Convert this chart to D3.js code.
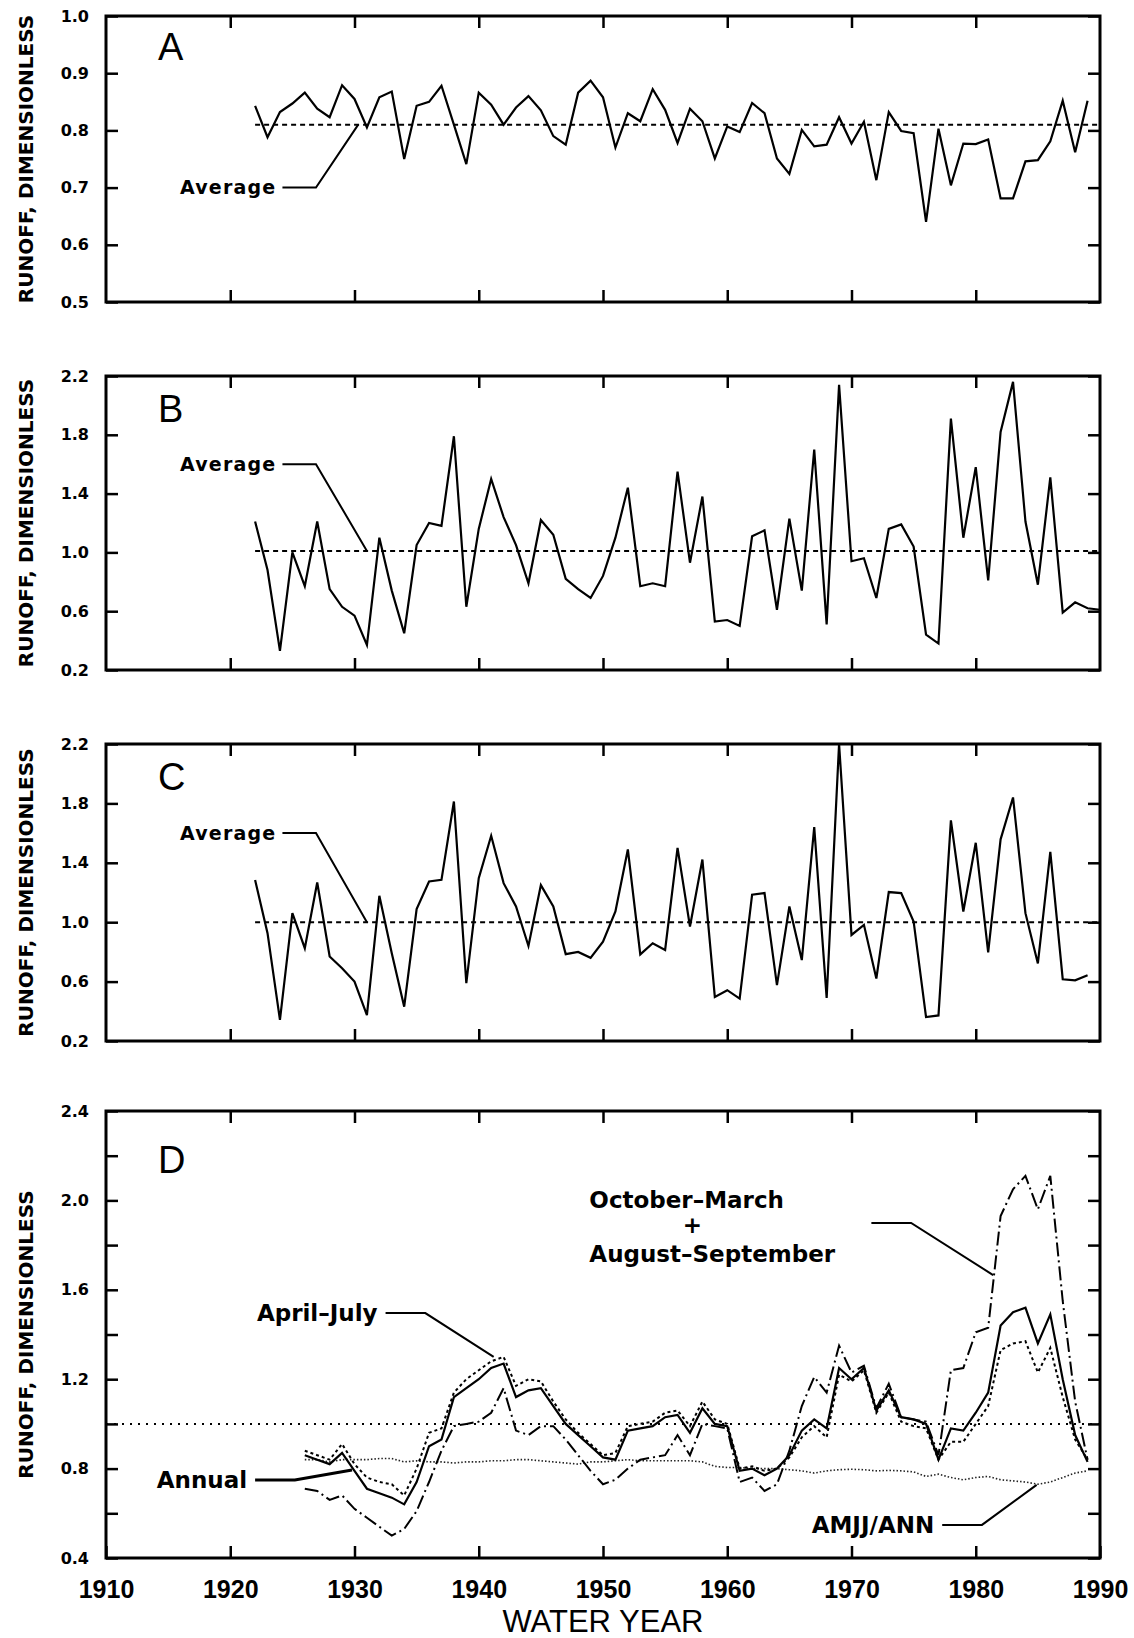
<!DOCTYPE html>
<html>
<head>
<meta charset="utf-8">
<script src="https://cdn.jsdelivr.net/npm/d3@7"></script>
<style>
  body { margin: 0; background: #fff; }
  text { fill: #000; }
</style>
</head>
<body>
<script>
// ---- data ----
const yearsA = d3.range(1922, 1990);
const yearsB = d3.range(1922, 1991);
const yearsC = d3.range(1922, 1990);
const yearsD = d3.range(1926, 1990);

const runoffA = [
  0.843, 0.788, 0.832, 0.847, 0.866, 0.838, 0.823, 0.879, 0.855, 0.805,
  0.858, 0.868, 0.750, 0.843, 0.850, 0.878, 0.810, 0.741, 0.866, 0.845,
  0.810, 0.840, 0.860, 0.835, 0.790, 0.775, 0.866, 0.887, 0.858, 0.770,
  0.830, 0.816, 0.872, 0.836, 0.778, 0.838, 0.816, 0.751, 0.807, 0.797,
  0.848, 0.830, 0.751, 0.724, 0.801, 0.772, 0.775, 0.823, 0.777, 0.815,
  0.713, 0.832, 0.799, 0.795, 0.640, 0.803, 0.704, 0.777, 0.776, 0.784,
  0.681, 0.681, 0.746, 0.748, 0.781, 0.852, 0.762, 0.852
];
const runoffB = [
  1.21, 0.88, 0.33, 1.00, 0.77, 1.21, 0.75, 0.63, 0.57, 0.37,
  1.10, 0.74, 0.45, 1.05, 1.20, 1.18, 1.79, 0.63, 1.16, 1.50,
  1.24, 1.05, 0.79, 1.22, 1.12, 0.82, 0.75, 0.69, 0.84, 1.10,
  1.44, 0.77, 0.79, 0.77, 1.55, 0.93, 1.38, 0.53, 0.54, 0.50,
  1.11, 1.15, 0.61, 1.23, 0.74, 1.70, 0.51, 2.14, 0.94, 0.96,
  0.69, 1.16, 1.19, 1.04, 0.44, 0.38, 1.91, 1.10, 1.58, 0.81,
  1.82, 2.16, 1.21, 0.78, 1.51, 0.59, 0.66, 0.62, 0.61
];
const runoffC = [
  1.285, 0.926, 0.342, 1.061, 0.825, 1.267, 0.769, 0.690, 0.600, 0.375,
  1.178, 0.791, 0.431, 1.088, 1.274, 1.285, 1.813, 0.589, 1.297, 1.582,
  1.263, 1.106, 0.840, 1.250, 1.106, 0.785, 0.800, 0.760, 0.869, 1.072,
  1.490, 0.783, 0.858, 0.813, 1.501, 0.971, 1.422, 0.497, 0.542, 0.485,
  1.185, 1.196, 0.576, 1.106, 0.745, 1.641, 0.490, 2.200, 0.914, 0.982,
  0.621, 1.203, 1.196, 1.005, 0.361, 0.372, 1.686, 1.072, 1.535, 0.797,
  1.558, 1.840, 1.061, 0.722, 1.474, 0.616, 0.609, 0.643
];
const averageA = 0.81, averageB = 1.01, averageC = 1.0, referenceD = 1.0;

const aprJul = [
  0.86, 0.84, 0.82, 0.87, 0.79, 0.71, 0.69, 0.67, 0.64, 0.74,
  0.90, 0.93, 1.12, 1.16, 1.20, 1.25, 1.27, 1.12, 1.15, 1.16,
  1.08, 1.00, 0.95, 0.90, 0.85, 0.84, 0.97, 0.98, 0.99, 1.03,
  1.04, 0.96, 1.07, 1.00, 0.99, 0.79, 0.80, 0.77, 0.80, 0.86,
  0.97, 1.02, 0.98, 1.25, 1.20, 1.25, 1.06, 1.15, 1.03, 1.02,
  1.00, 0.84, 0.98, 0.97, 1.05, 1.14, 1.44, 1.50, 1.52, 1.36,
  1.49, 1.20, 0.95, 0.83
];
const annual = [
  0.88, 0.86, 0.84, 0.91, 0.82, 0.76, 0.74, 0.73, 0.68, 0.80,
  0.96, 0.98, 1.14, 1.20, 1.24, 1.28, 1.30, 1.17, 1.20, 1.19,
  1.10, 1.02, 0.96, 0.91, 0.86, 0.87, 0.99, 1.00, 1.01, 1.05,
  1.06, 0.99, 1.10, 1.02, 1.00, 0.80, 0.81, 0.79, 0.80, 0.85,
  0.94, 0.99, 0.94, 1.22, 1.19, 1.24, 1.05, 1.14, 1.01, 0.99,
  0.98, 0.84, 0.92, 0.92, 1.00, 1.08, 1.33, 1.36, 1.37, 1.23,
  1.34, 1.12, 0.93, 0.84
];
const octMarAugSep = [
  0.71, 0.70, 0.66, 0.68, 0.62, 0.58, 0.54, 0.50, 0.53, 0.61,
  0.74, 0.88, 0.99, 1.00, 1.01, 1.05, 1.16, 0.97, 0.95, 0.99,
  0.99, 0.93, 0.86, 0.79, 0.73, 0.75, 0.80, 0.84, 0.85, 0.86,
  0.95, 0.86, 1.00, 0.99, 0.98, 0.74, 0.76, 0.70, 0.73, 0.88,
  1.08, 1.21, 1.14, 1.35, 1.23, 1.26, 1.07, 1.18, 1.03, 1.02,
  1.01, 0.86, 1.24, 1.25, 1.41, 1.43, 1.93, 2.05, 2.11, 1.96,
  2.11, 1.55, 1.10, 0.84
];
const amjjAnn = [
  0.840, 0.840, 0.830, 0.840, 0.840, 0.840, 0.845, 0.845, 0.830, 0.835,
  0.830, 0.830, 0.825, 0.830, 0.830, 0.835, 0.835, 0.840, 0.840, 0.835,
  0.830, 0.825, 0.820, 0.830, 0.830, 0.835, 0.840, 0.835, 0.835, 0.835,
  0.835, 0.835, 0.830, 0.810, 0.805, 0.805, 0.800, 0.800, 0.800, 0.795,
  0.790, 0.780, 0.790, 0.795, 0.797, 0.795, 0.790, 0.792, 0.790, 0.785,
  0.765, 0.775, 0.760, 0.750, 0.760, 0.765, 0.750, 0.745, 0.740, 0.730,
  0.740, 0.760, 0.780, 0.790
];

const xTickLabels = [1910, 1920, 1930, 1940, 1950, 1960, 1970, 1980, 1990];
const xTicksInner = [1920, 1930, 1940, 1950, 1960, 1970, 1980];
const yTicksA = [0.5, 0.6, 0.7, 0.8, 0.9, 1.0];
const yTicksBC = [0.2, 0.6, 1.0, 1.4, 1.8, 2.2];
const yTicksD = [0.4, 0.6, 0.8, 1.0, 1.2, 1.4, 1.6, 1.8, 2.0, 2.2, 2.4];
const yLabelsD = [0.4, 0.8, 1.2, 1.6, 2.0, 2.4];

// ---- layout ----
const width = 1134, height = 1638;
const left = 106, right = 1100;
const labelFont = "'DejaVu Sans', sans-serif";

const x = d3.scaleLinear().domain([1910, 1990]).range([left, right]);

const svg = d3.select("body").append("svg")
    .attr("width", width).attr("height", height)
    .style("font-family", labelFont);

const zip = (yrs, vals) => yrs.map((yr, i) => ({year: yr, v: vals[i]}));

let panels = [
  {name: "A", top: 16, bottom: 302, domain: [0.5, 1.0], ticks: yTicksA, labels: yTicksA, letterDy: 44},
  {name: "B", top: 376, bottom: 670, domain: [0.2, 2.2], ticks: yTicksBC, labels: yTicksBC, letterDy: 46},
  {name: "C", top: 744, bottom: 1041, domain: [0.2, 2.2], ticks: yTicksBC, labels: yTicksBC, letterDy: 46},
  {name: "D", top: 1111, bottom: 1558, domain: [0.4, 2.4], ticks: yTicksD, labels: yLabelsD, letterDy: 62}
];

panels.forEach(p => {
  p.y = d3.scaleLinear().domain(p.domain).range([p.bottom, p.top]);
  const g = svg.append("g");
  p.g = g;

  // left axis with labels, ticks pointing inward
  g.append("g")
      .attr("transform", `translate(${left},0)`)
      .call(d3.axisLeft(p.y).tickValues(p.ticks).tickSize(-12).tickPadding(17)
          .tickFormat(d => p.labels.some(l => Math.abs(l - d) < 1e-9) ? d3.format(".1f")(d) : ""))
      .call(a => a.select(".domain").remove())
      .call(a => a.selectAll("line").attr("stroke-width", 2.5))
      .call(a => a.selectAll("text").attr("font-size", 16).attr("font-weight", "bold")
          .attr("font-family", labelFont).attr("fill", "#000"));

  g.append("g")
      .attr("transform", `translate(${right},0)`)
      .call(d3.axisRight(p.y).tickValues(p.ticks).tickSize(-12).tickFormat(""))
      .call(a => a.select(".domain").remove())
      .call(a => a.selectAll("line").attr("stroke-width", 2.5));

  g.append("g")
      .attr("transform", `translate(0,${p.top})`)
      .call(d3.axisTop(x).tickValues(xTicksInner).tickSize(-12).tickFormat(""))
      .call(a => a.select(".domain").remove())
      .call(a => a.selectAll("line").attr("stroke-width", 2.5));

  g.append("g")
      .attr("transform", `translate(0,${p.bottom})`)
      .call(d3.axisBottom(x).tickValues(p.name === "D" ? xTickLabels : xTicksInner)
          .tickSize(-12).tickPadding(p.name === "D" ? 22 : 3)
          .tickFormat(p.name === "D" ? d3.format("d") : ""))
      .call(a => a.select(".domain").remove())
      .call(a => a.selectAll("line").attr("stroke-width", 2.5))
      .call(a => a.selectAll("text").attr("font-size", 25).attr("font-weight", "bold")
          .attr("font-family", "'Liberation Sans', Arial, sans-serif").attr("fill", "#000"));

  // frame
  g.append("rect")
      .attr("x", left).attr("y", p.top)
      .attr("width", right - left).attr("height", p.bottom - p.top)
      .attr("fill", "none").attr("stroke", "#000").attr("stroke-width", 3);

  // panel letter
  g.append("text")
      .attr("x", left + 52).attr("y", p.top + p.letterDy)
      .attr("font-family", "'Liberation Sans', Arial, sans-serif")
      .attr("font-size", 38)
      .text(p.name);

  // y title
  g.append("text")
      .attr("transform", `translate(33,${(p.top + p.bottom) / 2}) rotate(-90)`)
      .attr("text-anchor", "middle")
      .attr("font-size", 20).attr("font-weight", "bold")
      .text("RUNOFF, DIMENSIONLESS");
});

// ---- panels A-C: series + average ----
const abc = [
  {p: panels[0], data: zip(yearsA, runoffA), avg: averageA, from: 1922},
  {p: panels[1], data: zip(yearsB, runoffB), avg: averageB, from: 1922},
  {p: panels[2], data: zip(yearsC, runoffC), avg: averageC, from: 1922}
];

// leader for "Average": label level, elbow, target year
const avgLabel = [
  {labelV: 0.70, elbowFrom: 1924.2, elbowTo: 1926.9, target: 1930.3},
  {labelV: 1.60, elbowFrom: 1924.2, elbowTo: 1926.9, target: 1931.0},
  {labelV: 1.60, elbowFrom: 1924.2, elbowTo: 1926.9, target: 1931.0}
];

abc.forEach((s, i) => {
  const y = s.p.y, g = s.p.g;
  const line = d3.line().x(d => x(d.year)).y(d => y(d.v));
  g.append("path")
      .datum([{year: s.from, v: s.avg}, {year: 1990, v: s.avg}])
      .attr("d", line).attr("fill", "none").attr("stroke", "#000")
      .attr("stroke-width", 2).attr("stroke-dasharray", "5,4");
  g.append("path")
      .datum(s.data)
      .attr("d", line).attr("fill", "none").attr("stroke", "#000")
      .attr("stroke-width", 2.2).attr("stroke-linejoin", "miter");

  const a = avgLabel[i];
  g.append("path")
      .datum([{year: a.elbowFrom, v: a.labelV}, {year: a.elbowTo, v: a.labelV}, {year: a.target, v: s.avg}])
      .attr("d", line).attr("fill", "none").attr("stroke", "#000").attr("stroke-width", 2);
  g.append("text")
      .attr("x", x(a.elbowFrom) - 6).attr("y", y(a.labelV)).attr("dy", "0.36em")
      .attr("text-anchor", "end")
      .attr("font-size", 19).attr("font-weight", "bold").attr("letter-spacing", 1.2)
      .text("Average");
});

// ---- panel D ----
const pD = panels[3], yD = pD.y, gD = pD.g;
const lineD = d3.line().x(d => x(d.year)).y(d => yD(d.v));

gD.append("path")
    .datum([{year: 1910, v: referenceD}, {year: 1990, v: referenceD}])
    .attr("d", lineD).attr("fill", "none").attr("stroke", "#000")
    .attr("stroke-width", 2).attr("stroke-dasharray", "2,6");

const seriesD = [
  {vals: amjjAnn, dash: "1.5,2", w: 1.6, color: "#222"},
  {vals: octMarAugSep, dash: "14,4,2,4", w: 2, color: "#000"},
  {vals: annual, dash: "3,3", w: 2, color: "#000"},
  {vals: aprJul, dash: null, w: 2.2, color: "#000"}
];
seriesD.forEach(s => {
  gD.append("path")
      .datum(zip(yearsD, s.vals))
      .attr("d", lineD).attr("fill", "none").attr("stroke", s.color)
      .attr("stroke-width", s.w).attr("stroke-dasharray", s.dash);
});

const leadersD = [
  {text: "April\u2013July", pts: [[1932.5, 1.496], [1935.7, 1.496], [1941.2, 1.30]]},
  {text: "Annual", pts: [[1922.0, 0.749], [1925.2, 0.749], [1929.8, 0.794]], w: 3},
  {text: "AMJJ/ANN", pts: [[1977.3, 0.548], [1980.5, 0.548], [1984.9, 0.727]]},
  {text: null, pts: [[1971.6, 1.899], [1974.8, 1.899], [1981.4, 1.666]]}
];
leadersD.forEach(l => {
  gD.append("path")
      .datum(l.pts.map(p => ({year: p[0], v: p[1]})))
      .attr("d", lineD).attr("fill", "none").attr("stroke", "#000")
      .attr("stroke-width", l.w || 2);
  if (l.text) {
    gD.append("text")
        .attr("x", x(l.pts[0][0]) - 8).attr("y", yD(l.pts[0][1])).attr("dy", "0.36em")
        .attr("text-anchor", "end")
        .attr("font-size", 23).attr("font-weight", "bold")
        .text(l.text);
  }
});

// stacked label for October-March + August-September
const octLabel = [
  {t: "October\u2013March", year: 1948.9, v: 1.966, anchor: "start"},
  {t: "+", year: 1957.2, v: 1.854, anchor: "middle"},
  {t: "August\u2013September", year: 1948.9, v: 1.724, anchor: "start"}
];
octLabel.forEach(o => {
  gD.append("text")
      .attr("x", x(o.year)).attr("y", yD(o.v))
      .attr("text-anchor", o.anchor)
      .attr("font-size", 23).attr("font-weight", "bold")
      .text(o.t);
});

// x title
svg.append("text")
    .attr("x", (left + right) / 2).attr("y", 1632)
    .attr("text-anchor", "middle")
    .attr("font-family", "'Liberation Sans', Arial, sans-serif")
    .attr("font-size", 31)
    .text("WATER YEAR");
</script>
</body>
</html>
